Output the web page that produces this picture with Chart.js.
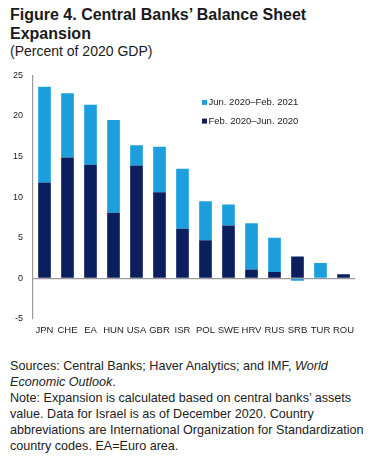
<!DOCTYPE html>
<html>
<head>
<meta charset="utf-8">
<script src="https://cdn.jsdelivr.net/npm/chart.js@4"></script>
<style>
  body { margin: 0; width: 381px; height: 462px; background: #fff; font-family: "Liberation Sans", Arial, sans-serif; color: #1a1a1a; position: relative; overflow: hidden; }
  #title { position: absolute; left: 10px; top: 6px; font-weight: bold; font-size: 16px; line-height: 18.5px; }
  #sub { position: absolute; left: 10px; top: 43px; font-size: 14px; }
  #wrap { position: absolute; left: 0; top: 60px; width: 381px; height: 295px; }
  #note { position: absolute; left: 10px; top: 359px; font-size: 12.6px; line-height: 15.9px; color: #222; }
</style>
</head>
<body>
<div id="title">Figure 4. Central Banks’ Balance Sheet<br>Expansion</div>
<div id="sub">(Percent of 2020 GDP)</div>
<div id="wrap"><canvas id="chart"></canvas></div>
<div id="note">Sources: Central Banks; Haver Analytics; and IMF, <i>World<br>Economic Outlook</i>.<br>Note: Expansion is calculated based on central banks’ assets<br>value. Data for Israel is as of December 2020. Country<br>abbreviations are International Organization for Standardization<br>country codes. EA=Euro area.</div>
<script>
const countries = ["JPN", "CHE", "EA", "HUN", "USA", "GBR", "ISR", "POL", "SWE", "HRV", "RUS", "SRB", "TUR", "ROU"];
// Feb 2020 - Jun 2020 (dark)
const firstPhase = [11.8, 14.9, 14.0, 8.1, 13.9, 10.6, 6.1, 4.7, 6.5, 1.1, 0.8, 2.7, 0.0, 0.5];
// Jun 2020 - Feb 2021 (light)
const secondPhase = [11.8, 7.9, 7.4, 11.4, 2.5, 5.6, 7.4, 4.8, 2.6, 5.7, 4.2, -0.3, 1.9, 0.0];
const yTicks = [25, 20, 15, 10, 5, 0, -5];

const light = "#1c9fdc";
const dark = "#0b1f5f";

// small legend drawn inside the plot area
const innerLegend = {
  id: "innerLegend",
  afterDraw(chart) {
    const c = chart.ctx, a = chart.chartArea;
    const items = [chart.data.datasets[1], chart.data.datasets[0]];
    c.save();
    c.font = "9.5px 'Liberation Sans', Arial";
    c.textBaseline = "middle";
    items.forEach((ds, i) => {
      const y = a.top + 27 + i * 18.7;
      c.fillStyle = ds.backgroundColor;
      c.fillRect(a.left + 169, y - 2.5, 5, 5);
      c.fillStyle = "#222";
      c.fillText(ds.label, a.left + 175.5, y);
    });
    c.restore();
  }
};

new Chart(document.getElementById("chart"), {
  type: "bar",
  data: {
    labels: countries,
    datasets: [
      { label: "Feb. 2020–Jun. 2020", data: firstPhase, backgroundColor: dark },
      { label: "Jun. 2020–Feb. 2021", data: secondPhase, backgroundColor: light }
    ]
  },
  options: {
    responsive: true,
    maintainAspectRatio: false,
    animation: false,
    layout: { padding: { left: 0, right: 26, top: 15, bottom: 0 } },
    datasets: { bar: { barPercentage: 0.55, categoryPercentage: 1 } },
    plugins: { legend: { display: false }, tooltip: { enabled: false } },
    scales: {
      x: {
        stacked: true,
        grid: { display: false },
        border: { display: false },
        ticks: { color: "#222", font: { size: 9.5, family: "'Liberation Sans', Arial" }, padding: -2, maxRotation: 0, autoSkip: false },
        afterFit(s) { s.height = 36; }
      },
      y: {
        stacked: true,
        min: -5,
        max: 25,
        afterBuildTicks(s) { s.ticks = yTicks.map(v => ({ value: v })); },
        grid: {
          drawTicks: false,
          color: ctx => ctx.tick && ctx.tick.value === 0 ? "#9a9a9a" : "rgba(0,0,0,0)",
          lineWidth: 1.2
        },
        border: { display: true, color: "#9a9a9a", width: 1.2 },
        ticks: { color: "#222", font: { size: 9, family: "'Liberation Sans', Arial" }, padding: 10 },
        afterFit(s) { s.width = 33; }
      }
    }
  },
  plugins: [innerLegend]
});
</script>
</body>
</html>
